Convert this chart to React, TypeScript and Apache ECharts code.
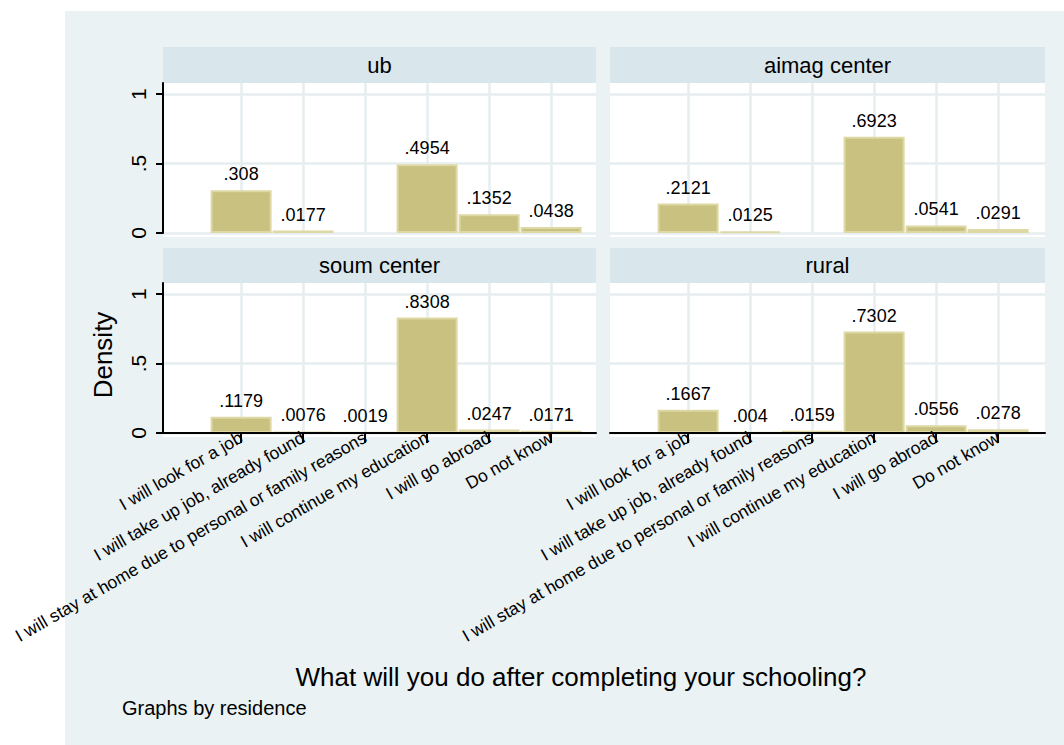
import React, { useEffect, useRef } from "react";
import * as echarts from "echarts";

const categories = [
  "I will look for a job",
  "I will take up job, already found",
  "I will stay at home due to personal or family reasons",
  "I will continue my education",
  "I will go abroad",
  "Do not know",
];
const panelTitles = ["ub", "aimag center", "soum center", "rural"];
const ubValues = [0.308, 0.0177, null, 0.4954, 0.1352, 0.0438];
const aimagValues = [0.2121, 0.0125, null, 0.6923, 0.0541, 0.0291];
const soumValues = [0.1179, 0.0076, 0.0019, 0.8308, 0.0247, 0.0171];
const ruralValues = [0.1667, 0.004, 0.0159, 0.7302, 0.0556, 0.0278];
const yTicks = [0, 0.5, 1];
const xTicks = [1, 2, 3, 4, 5, 6];
const yTitle = "Density";
const xTitle = "What will you do after completing your schooling?";
const noteText = "Graphs by residence";

const FONT = "'Liberation Sans', Arial, Helvetica, sans-serif";
const BG = "#eaf2f3";
const HEADER = "#d9e6eb";
const GRIDLINE = "#e6eef0";
const BAR = "#c9c17f";
const BAR_BORDER = "#ddd8a4";

const fmtNum = (v: number) => {
  if (v === 0) return "0";
  return String(v).replace(/^0\./, ".");
};

export default function App() {
  const ref = useRef<HTMLDivElement>(null);
  useEffect(() => {
    if (!ref.current) return;
    const chart = echarts.init(ref.current, null, { renderer: "svg" });
    const allValues = [ubValues, aimagValues, soumValues, ruralValues];
    const PX_PER_UNIT = 62;
    const XMIN = -0.26;
    const panels = [
      { left: 163, top: 83, width: 433, height: 150, bottomAxis: false, leftAxis: true },
      { left: 610, top: 83, width: 435, height: 150, bottomAxis: false, leftAxis: false },
      { left: 163, top: 283, width: 433, height: 150, bottomAxis: true, leftAxis: true },
      { left: 610, top: 283, width: 435, height: 150, bottomAxis: true, leftAxis: false },
    ];
    const grids = panels.map((p) => ({
      left: p.left,
      top: p.top,
      width: p.width,
      height: p.height,
      containLabel: false,
    }));
    const xAxes = panels.map((p, i) => ({
      type: "value",
      gridIndex: i,
      z: 10,
      min: XMIN,
      max: XMIN + p.width / PX_PER_UNIT,
      splitLine: { show: false },
      axisLine: {
        show: p.bottomAxis,
        onZero: false,
        lineStyle: { color: "#000", width: 2 },
      },
      axisTick: {
        show: p.bottomAxis,
        customValues: xTicks,
        length: 10,
        lineStyle: { color: "#000", width: 2 },
      },
      axisLabel: {
        show: p.bottomAxis,
        customValues: xTicks,
        rotate: 30,
        margin: 3,
        fontSize: 17.5,
        fontFamily: FONT,
        color: "#000",
        formatter: (v: number) => categories[Math.round(v) - 1] ?? "",
      },
    }));
    const yAxes = panels.map((p, i) => ({
      type: "value",
      gridIndex: i,
      z: 10,
      min: 0,
      max: 1.08,
      splitLine: { show: false },
      axisLine: {
        show: p.leftAxis,
        onZero: false,
        lineStyle: { color: "#000", width: 2 },
      },
      axisTick: {
        show: p.leftAxis,
        customValues: yTicks,
        length: 7,
        lineStyle: { color: "#000", width: 2 },
      },
      axisLabel: {
        show: p.leftAxis,
        customValues: yTicks,
        rotate: 90,
        margin: 14,
        fontSize: 21,
        fontFamily: FONT,
        color: "#000",
        formatter: (v: number) => fmtNum(v),
      },
    }));
    const series = panels.map((p, i) => ({
      type: "bar",
      xAxisIndex: i,
      yAxisIndex: i,
      barWidth: 61,
      z: 3,
      itemStyle: { color: BAR, borderColor: BAR_BORDER, borderWidth: 2 },
      label: {
        show: true,
        position: "top",
        distance: 7,
        fontSize: 18,
        fontFamily: FONT,
        color: "#000",
        formatter: (params: any) => fmtNum(params.value[1]),
      },
      data: allValues[i]
        .map((v, k) => (v === null ? null : [xTicks[k], v]))
        .filter((d) => d !== null),
      markLine: {
        silent: true,
        symbol: "none",
        z: 1,
        animation: false,
        label: { show: false },
        lineStyle: { color: GRIDLINE, width: 2.5, type: "solid" },
        data: [
          ...xTicks.map((x) => ({ xAxis: x })),
          ...yTicks.map((y) => ({ yAxis: y })),
        ],
      },
    }));
    const graphics: any[] = [
      { type: "rect", z: -20, shape: { x: 65, y: 11, width: 999, height: 734 }, style: { fill: BG } },
    ];
    panels.forEach((p, i) => {
      graphics.push({
        type: "rect",
        z: -10,
        shape: { x: p.left, y: p.top, width: p.width, height: p.height + 4 },
        style: { fill: "#ffffff" },
      });
      const hTop = p.top === 83 ? 47 : 248;
      graphics.push({
        type: "rect",
        z: 10,
        shape: { x: p.left, y: hTop, width: p.width, height: p.top - hTop },
        style: { fill: HEADER },
      });
      graphics.push({
        type: "text",
        z: 11,
        x: p.left + p.width / 2,
        y: (hTop + p.top) / 2,
        style: {
          text: panelTitles[i],
          fontSize: 22,
          fontFamily: FONT,
          fill: "#000",
          align: "center",
          verticalAlign: "middle",
        },
      });
    });
    graphics.push({
      type: "text",
      z: 11,
      x: 103,
      y: 355,
      rotation: Math.PI / 2,
      style: {
        text: yTitle,
        fontSize: 26,
        fontFamily: FONT,
        fill: "#000",
        align: "center",
        verticalAlign: "middle",
      },
    });
    graphics.push({
      type: "text",
      z: 11,
      x: 581,
      y: 677,
      style: {
        text: xTitle,
        fontSize: 26,
        fontFamily: FONT,
        fill: "#000",
        align: "center",
        verticalAlign: "middle",
      },
    });
    graphics.push({
      type: "text",
      z: 11,
      x: 122,
      y: 708,
      style: {
        text: noteText,
        fontSize: 20,
        fontFamily: FONT,
        fill: "#000",
        align: "left",
        verticalAlign: "middle",
      },
    });

    chart.setOption({
      animation: false,
      backgroundColor: "#ffffff",
      grid: grids,
      xAxis: xAxes,
      yAxis: yAxes,
      series,
      graphic: graphics,
    } as any);
    return () => chart.dispose();
  }, []);
  return (
    <div
      ref={ref}
      style={{ position: "absolute", left: 0, top: 0, width: 1064, height: 745 }}
    />
  );
}
